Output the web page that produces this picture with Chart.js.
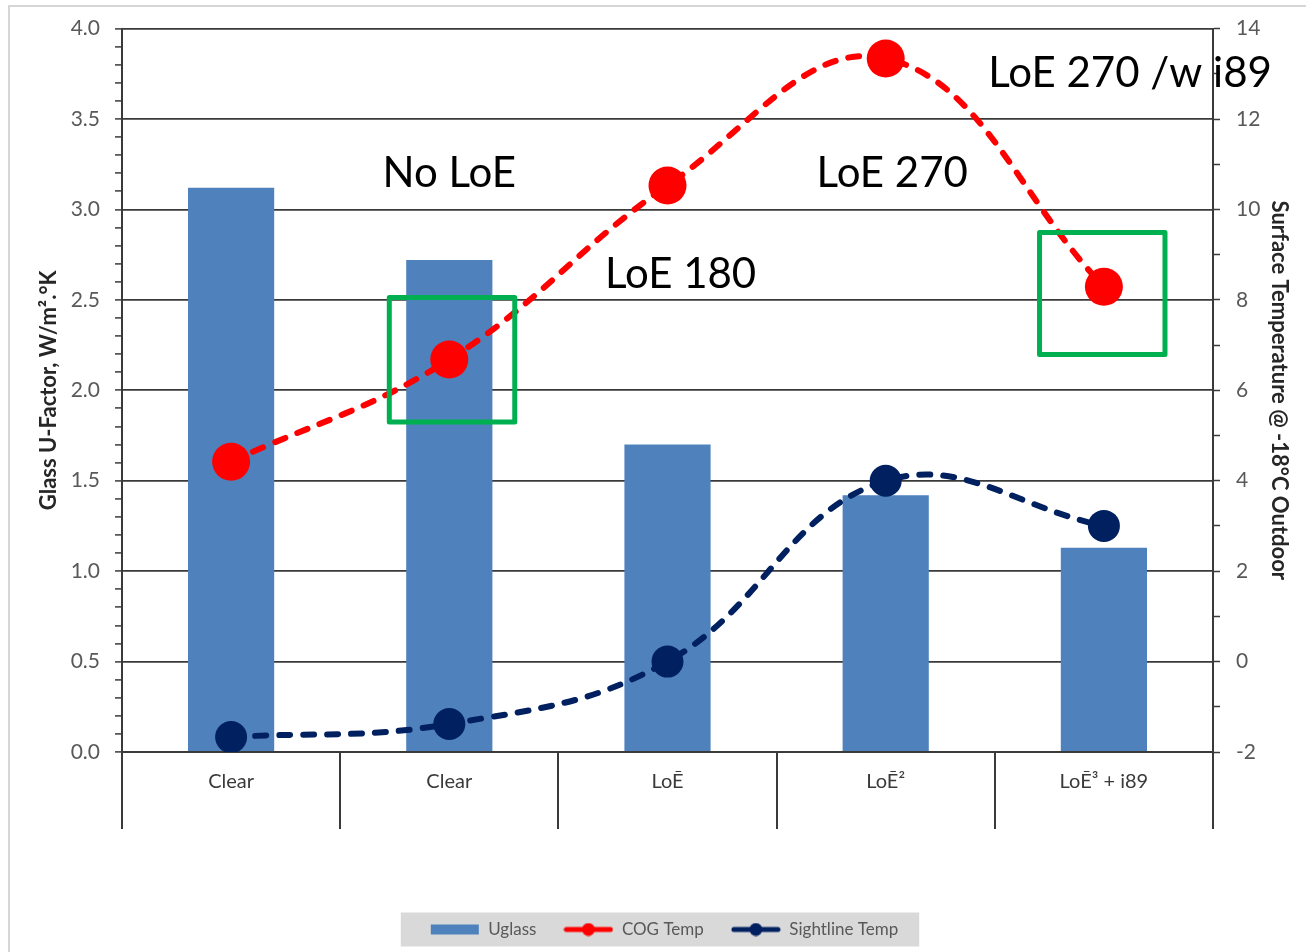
<!DOCTYPE html>
<html>
<head>
<meta charset="utf-8">
<script src="https://cdn.jsdelivr.net/npm/chart.js@4.4.1/dist/chart.umd.min.js"></script>
<style>
  html, body { margin: 0; padding: 0; background: #fff; }
  #wrap { position: relative; width: 1306px; height: 952px; overflow: hidden; }
  #wrap canvas { position: absolute; left: 0; top: 0; }
  #frame { position: absolute; left: 8px; top: 5px; right: -10px; bottom: -10px;
           border-left: 2px solid #d6d6d6; border-top: 2px solid #d6d6d6; pointer-events: none; }
</style>
</head>
<body>
<div id="wrap">
  <canvas id="glassChart" width="1306" height="952"></canvas>
  <div id="frame"></div>
</div>
<script>
'use strict';

// ── data ───────────────────────────────────────
const categories    = ['Clear', 'Clear', 'LoĒ', 'LoĒ²', 'LoĒ³ + i89'];
const uglass        = [3.12, 2.72, 1.70, 1.42, 1.13];
const cogTemp       = [4.42, 6.68, 10.53, 13.34, 8.29];
const sightlineTemp = [-1.67, -1.38, 0.0, 4.0, 3.0];

const leftTickLabels  = ['0.0', '0.5', '1.0', '1.5', '2.0', '2.5', '3.0', '3.5', '4.0'];
const rightTickLabels = ['-2', '0', '2', '4', '6', '8', '10', '12', '14'];

// callouts: x = category position, y = U-factor axis value
const callouts = [
    { text: 'No LoE',         x: 1.00, y: 3.20 },
    { text: 'LoE 180',        x: 2.06, y: 2.64 },
    { text: 'LoE 270',        x: 3.03, y: 3.20 },
    { text: 'LoE 270 /w i89', x: 4.12, y: 3.75 }
];
// highlight boxes: x in category units, y on temperature axis
const highlights = [
    { x0: 0.725, x1: 1.30, y0: 5.30, y1: 8.05 },
    { x0: 3.705, x1: 4.28, y0: 6.79, y1: 9.49 }
];

// ── colours / fonts ────────────────────────────
const colorBar    = '#4F81BD';
const colorCog    = '#FF0000';
const colorSight  = '#002060';
const colorAxis   = '#3a3a3a';
const colorTick   = '#595959';
const colorGreen  = '#00B050';
const fontFamily  = 'Lato, "Open Sans", sans-serif';

function isMultiple(v, step) {
    const r = v / step;
    return Math.abs(r - Math.round(r)) < 1e-6;
}

// small canvases used as legend symbols
function makeIcon(kind, color) {
    const c = document.createElement('canvas');
    c.width = 50; c.height = 14;
    const g = c.getContext('2d');
    if (kind === 'bar') {
        g.fillStyle = color;
        g.fillRect(1, 2, 48, 10);
    } else {
        g.strokeStyle = color;
        g.lineWidth = 5;
        g.lineCap = 'round';
        g.beginPath(); g.moveTo(3, 7); g.lineTo(47, 7); g.stroke();
        g.fillStyle = color;
        g.beginPath(); g.arc(25, 7, 6.5, 0, Math.PI * 2); g.fill();
    }
    return c;
}
const legendIcons = [makeIcon('bar', colorBar), makeIcon('line', colorCog), makeIcon('line', colorSight)];

// grey band behind the legend
const legendBackground = {
    id: 'legendBackground',
    beforeDraw(chart) {
        const lg = chart.legend;
        if (!lg || !lg.legendHitBoxes || !lg.legendHitBoxes.length) return;
        const hb = lg.legendHitBoxes;
        const left  = Math.min(...hb.map(h => h.left)) - 29;
        const right = Math.max(...hb.map(h => h.left + h.width)) + 21;
        const cy = hb[0].top + hb[0].height / 2;
        const ctx = chart.ctx;
        ctx.save();
        ctx.fillStyle = '#d9d9d9';
        ctx.fillRect(left, cy - 17, right - left, 34);
        ctx.restore();
    }
};

// text callouts and green highlight boxes
const calloutPlugin = {
    id: 'callouts',
    afterDatasetsDraw(chart) {
        const ctx = chart.ctx;
        const xs = chart.scales.x, ys = chart.scales.y, yt = chart.scales.y1;
        ctx.save();
        ctx.strokeStyle = colorGreen;
        ctx.lineWidth = 5;
        ctx.lineJoin = 'round';
        highlights.forEach(h => {
            const x0 = xs.getPixelForValue(h.x0), x1 = xs.getPixelForValue(h.x1);
            const y0 = yt.getPixelForValue(h.y0), y1 = yt.getPixelForValue(h.y1);
            ctx.strokeRect(x0, y1, x1 - x0, y0 - y1);
        });
        ctx.fillStyle = '#000';
        ctx.font = '42px ' + fontFamily;
        ctx.textAlign = 'center';
        ctx.textBaseline = 'middle';
        callouts.forEach(c => {
            ctx.fillText(c.text, xs.getPixelForValue(c.x), ys.getPixelForValue(c.y));
        });
        ctx.restore();
    }
};

new Chart(document.getElementById('glassChart'), {
    data: {
        labels: categories,
        datasets: [
            {
                type: 'bar',
                label: 'Uglass',
                data: uglass,
                yAxisID: 'y',
                backgroundColor: colorBar,
                borderWidth: 0,
                barPercentage: 0.395,
                categoryPercentage: 1.0,
                order: 3
            },
            {
                type: 'line',
                label: 'COG Temp',
                data: cogTemp,
                yAxisID: 'y1',
                borderColor: colorCog,
                backgroundColor: colorCog,
                borderWidth: 6,
                borderDash: [11, 13],
                borderCapStyle: 'round',
                tension: 0.4,
                fill: false,
                pointRadius: 19,
                pointHoverRadius: 19,
                pointBorderWidth: 0,
                pointBackgroundColor: colorCog,
                order: 1
            },
            {
                type: 'line',
                label: 'Sightline Temp',
                data: sightlineTemp,
                yAxisID: 'y1',
                borderColor: colorSight,
                backgroundColor: colorSight,
                borderWidth: 6,
                borderDash: [11, 13],
                borderCapStyle: 'round',
                tension: 0.4,
                fill: false,
                pointRadius: 16,
                pointHoverRadius: 16,
                pointBorderWidth: 0,
                pointBackgroundColor: colorSight,
                order: 2
            }
        ]
    },
    options: {
        responsive: false,
        animation: false,
        events: [],
        devicePixelRatio: 1,
        layout: { padding: { left: 32, right: 10, top: 28, bottom: 4 } },
        plugins: {
            tooltip: { enabled: false },
            legend: {
                display: true,
                position: 'bottom',
                labels: {
                    usePointStyle: true,
                    pointStyleWidth: 50,
                    padding: 27,
                    color: colorTick,
                    font: { family: fontFamily, size: 17 },
                    generateLabels(chart) {
                        const items = Chart.defaults.plugins.legend.labels.generateLabels(chart);
                        items.sort((a, b) => a.datasetIndex - b.datasetIndex);
                        items.forEach(it => { it.pointStyle = legendIcons[it.datasetIndex]; });
                        return items;
                    }
                }
            }
        },
        scales: {
            x: {
                type: 'category',
                offset: true,
                grid: {
                    offset: true,
                    drawOnChartArea: false,
                    drawTicks: true,
                    tickLength: 77,
                    color: colorAxis,
                    lineWidth: 2
                },
                border: { display: true, color: colorAxis, width: 2 },
                ticks: {
                    color: colorAxis,
                    font: { family: fontFamily, size: 20 },
                    padding: -59,
                    autoSkip: false,
                    maxRotation: 0
                },
                afterFit(scale) { scale.height = 142; }
            },
            y: {
                position: 'left',
                min: 0,
                max: 4,
                ticks: {
                    stepSize: 0.1,
                    maxTicksLimit: 100,
                    autoSkip: false,
                    padding: 15,
                    color: colorTick,
                    font: { family: fontFamily, size: 21 },
                    callback: (v) => isMultiple(v, 0.5) ? leftTickLabels[Math.round(v / 0.5)] : ''
                },
                grid: {
                    color: (ctx) => (ctx.tick && isMultiple(ctx.tick.value, 0.5)) ? colorAxis : 'rgba(0,0,0,0)',
                    tickColor: colorAxis,
                    lineWidth: 1.8,
                    tickWidth: 1.5,
                    tickLength: 7
                },
                border: { display: true, color: colorAxis, width: 2 },
                title: {
                    display: true,
                    text: 'Glass U-Factor, W/m².°K',
                    color: '#262626',
                    font: { family: fontFamily, size: 22, weight: 'bold' }
                },
                afterFit(scale) { scale.width = 90; }
            },
            y1: {
                position: 'right',
                min: -2,
                max: 14,
                ticks: {
                    stepSize: 1,
                    maxTicksLimit: 100,
                    autoSkip: false,
                    padding: 16,
                    color: colorTick,
                    font: { family: fontFamily, size: 21 },
                    callback: (v) => isMultiple(v, 2) ? rightTickLabels[Math.round((v + 2) / 2)] : ''
                },
                grid: {
                    drawOnChartArea: false,
                    tickColor: colorAxis,
                    tickWidth: 1.5,
                    tickLength: 7
                },
                border: { display: true, color: colorAxis, width: 2 },
                title: {
                    display: true,
                    text: 'Surface Temperature @ -18°C Outdoor',
                    color: '#262626',
                    font: { family: fontFamily, size: 22, weight: 'bold' }
                },
                afterFit(scale) { scale.width = 83; }
            }
        }
    },
    plugins: [legendBackground, calloutPlugin]
});
</script>
</body>
</html>
